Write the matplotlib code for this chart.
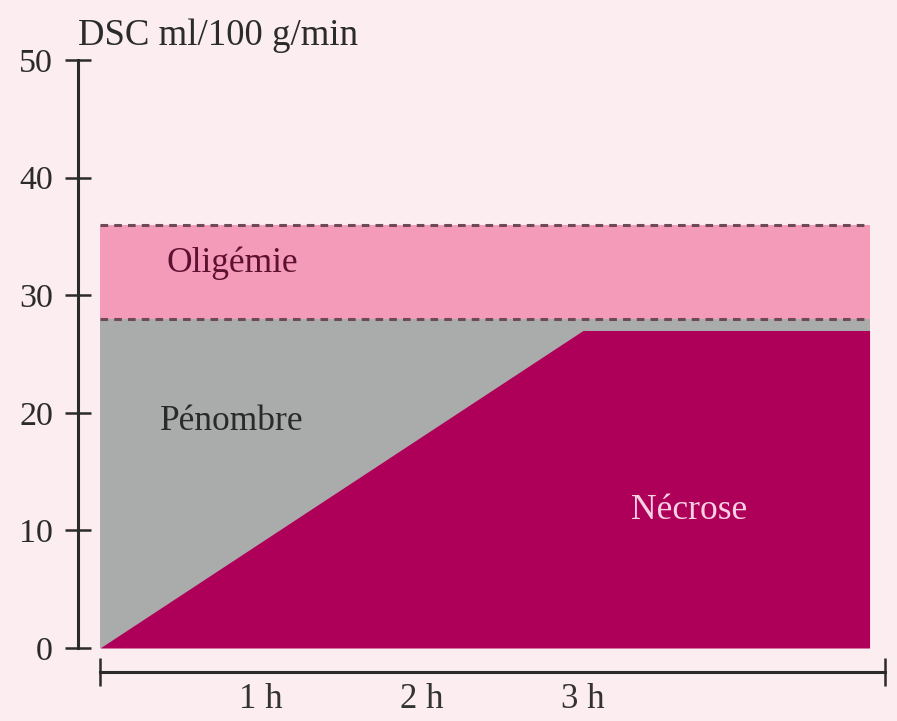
import matplotlib
matplotlib.use("Agg")
import matplotlib.pyplot as plt
import numpy as np

# ---- data ----
necrose_time_h = [0.0, 3.0, 4.78]          # hours
necrose_flow = [0.0, 27.0, 27.0]           # ml/100 g/min
penombre_top = 28.0
oligemie_top = 36.0
region_end_h = 4.78
axis_end_h = 4.876
y_ticks = [0, 10, 20, 30, 40, 50]
x_label_pos = [1, 2, 3]
x_labels = ["1 h", "2 h", "3 h"]
zone_labels = ["Oligémie", "Pénombre", "Nécrose"]
zone_label_pos = [(0.82, 32.7), (0.82, 19.3), (3.66, 11.7)]
title = "DSC ml/100 g/min"

# ---- style ----
bg = "#fcedf1"
c_olig = "#f49bb9"
c_pen = "#a9acab"
c_nec = "#ae0058"
c_axis = "#2b2b2b"
font = "Liberation Serif"

fig = plt.figure(figsize=(8.97, 7.21), dpi=100, facecolor=bg)
ax = fig.add_axes([78 / 897, 49 / 721, (885 - 78) / 897, (672 - 40) / 721])
ax.set_facecolor(bg)
ax.set_xlim(-0.1366, axis_end_h)
ax.set_ylim(-24 / 11.76, (648 - 40) / 11.76)

x_full = np.array([0.0, region_end_h])
ax.fill_between(x_full, penombre_top, oligemie_top, color=c_olig, lw=0, zorder=1)
ax.fill_between(x_full, 0, penombre_top, color=c_pen, lw=0, zorder=1)
ax.fill_between(necrose_time_h, 0, necrose_flow, color=c_nec, lw=0, zorder=2)

for yv in (penombre_top, oligemie_top):
    ax.plot(x_full, [yv, yv], color="#6e4a58", lw=2.2, ls=(0, (2.5, 2.0)), zorder=3)

# spines
for s in ("top", "right"):
    ax.spines[s].set_visible(False)
ax.spines["left"].set_bounds(0, 50)
ax.spines["left"].set_linewidth(2.2)
ax.spines["left"].set_color(c_axis)
ax.spines["bottom"].set_bounds(0, axis_end_h)
ax.spines["bottom"].set_linewidth(2.2)
ax.spines["bottom"].set_color(c_axis)

ax.set_yticks(y_ticks)
ax.set_yticklabels([str(v) for v in y_ticks], fontfamily=font, fontsize=24.5, color="#2b2b2b")
ax.tick_params(axis="y", direction="inout", length=19, width=1.8, color=c_axis, pad=8.5)

ax.set_xticks([0, axis_end_h])
ax.set_xticklabels(["", ""])
ax.tick_params(axis="x", which="major", direction="inout", length=20, width=1.8, color=c_axis)
ax.set_xticks(x_label_pos, minor=True)
ax.set_xticklabels(x_labels, minor=True, fontfamily=font, fontsize=25, color="#333333")
ax.tick_params(axis="x", which="minor", length=0, pad=8)

txt_colors = ["#5e1030", "#2a2a2a", "#f8d0e4"]
for lab, (xx, yy), col in zip(zone_labels, zone_label_pos, txt_colors):
    ax.text(xx, yy, lab, ha="center", va="center", fontfamily=font, fontsize=25.5,
            color=col, zorder=4)

fig.text(78 / 897, 1 - 36 / 721, title, ha="left", va="center", fontfamily=font,
         fontsize=26.5, color="#2b2b2b")

fig.savefig("out.png", dpi=100, facecolor=bg)
